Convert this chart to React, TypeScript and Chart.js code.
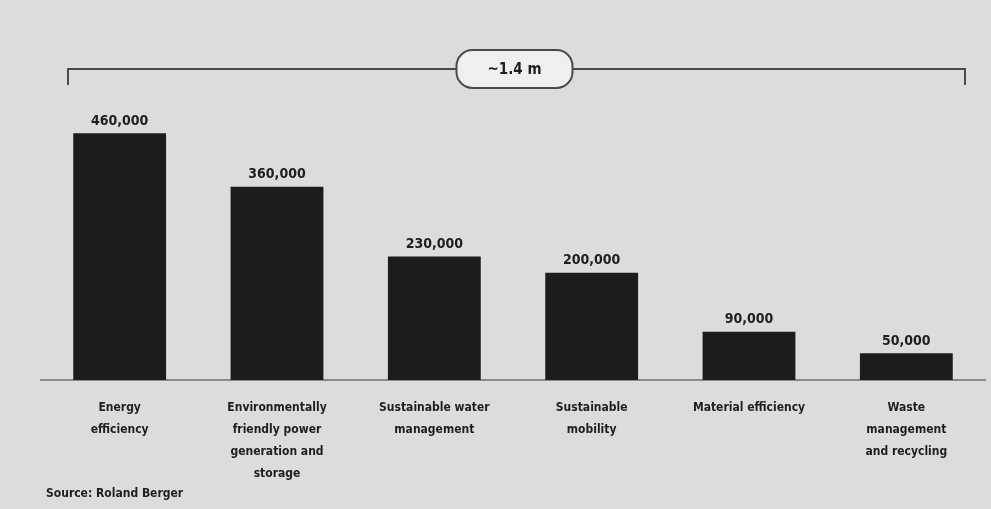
import React, { useEffect, useRef } from "react";
import { Chart, registerables } from "chart.js";

Chart.register(...registerables);

const categories: string[][] = [
  ["Energy", "efficiency"],
  ["Environmentally", "friendly power", "generation and", "storage"],
  ["Sustainable water", "management"],
  ["Sustainable", "mobility"],
  ["Material efficiency"],
  ["Waste", "management", "and recycling"],
];
const values: number[] = [460000, 360000, 230000, 200000, 90000, 50000];
const valueLabels: string[] = ["460,000", "360,000", "230,000", "200,000", "90,000", "50,000"];
const totalLabel = "~1.4 m";
const sourceText = "Source: Roland Berger";

const FONT = "'DejaVu Sans Condensed', 'Liberation Sans Narrow', sans-serif";

const decorPlugin = {
  id: "decor",
  beforeDraw(chart: any) {
    const { ctx, width, height } = chart;
    ctx.save();
    ctx.fillStyle = "#dcdcdc";
    ctx.fillRect(0, 0, width, height);
    ctx.restore();
  },
  afterDraw(chart: any) {
    const { ctx, chartArea } = chart;
    const meta = chart.getDatasetMeta(0);
    ctx.save();
    // value labels
    ctx.fillStyle = "#1e1e1e";
    ctx.font = `bold 14px ${FONT}`;
    ctx.textAlign = "center";
    ctx.textBaseline = "middle";
    meta.data.forEach((bar: any, i: number) => {
      ctx.fillText(valueLabels[i], bar.x, bar.y - 12);
    });

    // bracket
    const left = chartArea.left + 27;
    const right = chartArea.right - 20;
    const by = chartArea.top + 11;
    ctx.strokeStyle = "#4a4a4a";
    ctx.lineWidth = 2;
    ctx.beginPath();
    ctx.moveTo(left, by + 16);
    ctx.lineTo(left, by);
    ctx.lineTo(right, by);
    ctx.lineTo(right, by + 16);
    ctx.stroke();

    // pill
    const cx = (left + right) / 2 - 2;
    const w = 116;
    const h = 38;
    const x0 = cx - w / 2;
    const y0 = by - h / 2;
    ctx.beginPath();
    (ctx as any).roundRect(x0, y0, w, h, 16);
    ctx.fillStyle = "#efefef";
    ctx.fill();
    ctx.stroke();
    ctx.fillStyle = "#1e1e1e";
    ctx.font = `bold 15px ${FONT}`;
    ctx.fillText(totalLabel, cx, by + 1);

    // source
    ctx.textAlign = "left";
    ctx.font = `bold 12px ${FONT}`;
    ctx.fillText(sourceText, chartArea.left + 5, 494);
    ctx.restore();
  },
};

export default function App() {
  const ref = useRef<HTMLCanvasElement | null>(null);
  useEffect(() => {
    document.body.style.margin = "0";
    if (!ref.current) return;
    const chart = new Chart(ref.current, {
      type: "bar",
      data: {
        labels: categories,
        datasets: [
          {
            data: values,
            backgroundColor: "#1c1c1c",
            borderWidth: 0,
            barPercentage: 0.59,
            categoryPercentage: 1,
          },
        ],
      },
      options: {
        animation: false,
        responsive: false,
        maintainAspectRatio: false,
        layout: { padding: { left: 41, right: 6, top: 58, bottom: 0 } },
        plugins: {
          legend: { display: false },
          tooltip: { enabled: false },
        },
        scales: {
          x: {
            grid: { display: false, drawTicks: false },
            border: { display: true, color: "#8a8a8a", width: 2 },
            ticks: {
              color: "#1e1e1e",
              padding: 17,
              maxRotation: 0,
              autoSkip: false,
              font: { family: FONT, size: 12, weight: "bold", lineHeight: "22px" } as any,
            },
            afterFit: (axis: any) => {
              axis.height = 129;
            },
          },
          y: {
            display: false,
            min: 0,
            max: 600000,
          },
        },
      },
      plugins: [decorPlugin],
    });
    return () => chart.destroy();
  }, []);
  return <canvas ref={ref} width={991} height={509} style={{ display: "block" }} />;
}
